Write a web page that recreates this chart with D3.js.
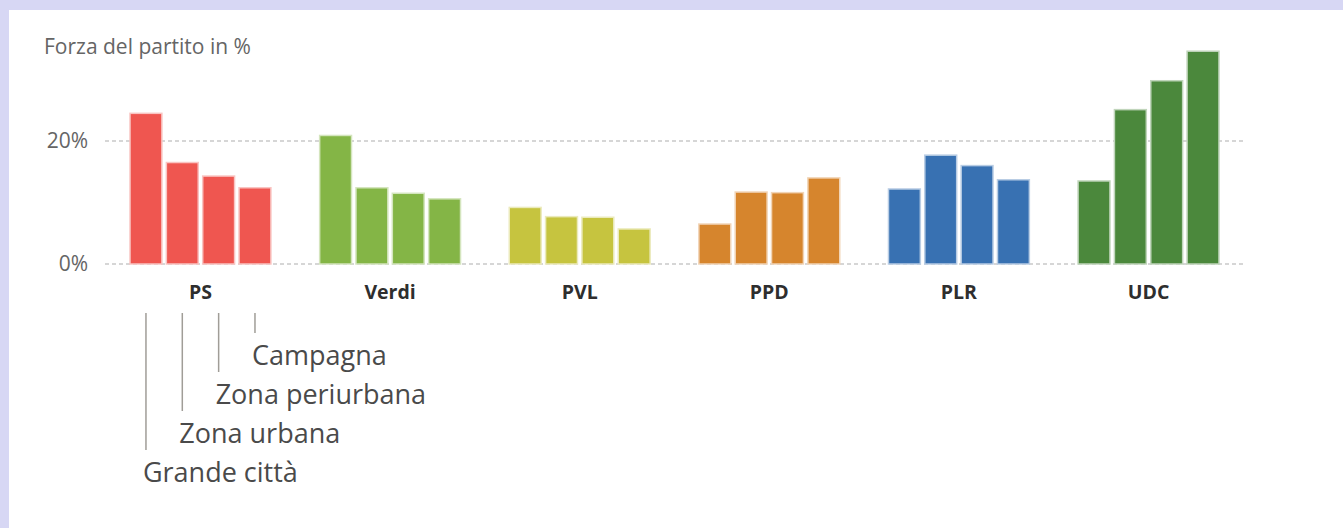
<!DOCTYPE html>
<html>
<head>
<meta charset="utf-8">
<script src="https://cdn.jsdelivr.net/npm/d3@7"></script>
<style>
  body { margin: 0; background: #d7d7f4; }
  #chart { position: absolute; left: 9px; top: 10px; width: 1334px; height: 518px; background: #fff; }
  text { font-family: "Open Sans", "Noto Sans", sans-serif; }
</style>
</head>
<body>
<div id="chart"></div>
<script>
// data
const parties = ["PS", "Verdi", "PVL", "PPD", "PLR", "UDC"]
const areas = ["Grande città", "Zona urbana", "Zona periurbana", "Campagna"]
const grandeCitta = [24.5, 20.9, 9.2, 6.5, 12.2, 13.5]
const zonaUrbana = [16.5, 12.4, 7.7, 11.7, 17.7, 25.1]
const zonaPeriurbana = [14.3, 11.5, 7.6, 11.6, 16.0, 29.8]
const campagna = [12.4, 10.6, 5.7, 14.0, 13.7, 34.6]
const partyColors = ["#ef5650", "#84b546", "#c6c43f", "#d6852d", "#3871b2", "#4b883c"]
const yTicks = [0, 20]

const series = [grandeCitta, zonaUrbana, zonaPeriurbana, campagna]

// svg coords are page coords shifted by the white panel offset
const offX = 9, offY = 10
const svg = d3.select("#chart")
    .append("svg")
    .attr("width", 1334)
    .attr("height", 518)
    .append("g")
    .attr("transform", `translate(${-offX},${-offY})`)

const x0 = d3.scaleBand()
    .domain(parties)
    .range([105, 1244])
    .paddingInner(0.257)
    .paddingOuter(0.132)

const x1 = d3.scaleBand()
    .domain(areas)
    .range([0, x0.bandwidth()])
    .paddingInner(0.123)

const y = d3.scaleLinear()
    .domain([0, 20])
    .range([264, 141])

// title
svg.append("text")
    .attr("x", 44)
    .attr("y", 54)
    .attr("font-size", 21)
    .attr("fill", "#656565")
    .text("Forza del partito in %")

// grid lines
const grid = svg.append("g")
grid.selectAll("line")
    .data(yTicks)
    .join("line")
    .attr("x1", 105)
    .attr("x2", 1244)
    .attr("y1", d => y(d))
    .attr("y2", d => y(d))
    .attr("stroke", "#c9c9c9")
    .attr("stroke-width", 1.3)
    .attr("stroke-dasharray", "4,3")

grid.selectAll("text")
    .data(yTicks)
    .join("text")
    .attr("x", 88)
    .attr("y", d => y(d))
    .attr("dy", "0.35em")
    .attr("text-anchor", "end")
    .attr("font-size", 21)
    .attr("fill", "#656565")
    .text(d => d + "%")

// bars
const groups = svg.append("g")
    .selectAll("g")
    .data(parties)
    .join("g")
    .attr("transform", d => `translate(${x0(d)},0)`)

groups.selectAll("rect")
    .data((p, i) => areas.map((a, j) => ({ area: a, value: series[j][i], color: partyColors[i] })))
    .join("rect")
    .attr("x", d => x1(d.area))
    .attr("y", d => y(d.value))
    .attr("width", x1.bandwidth())
    .attr("height", d => y(0) - y(d.value))
    .attr("fill", d => d.color)
    .attr("stroke", d => d3.interpolateRgb(d.color, "#fff")(0.65))
    .attr("stroke-width", 1.5)

// party labels
svg.append("g")
    .selectAll("text")
    .data(parties)
    .join("text")
    .attr("x", d => x0(d) + x0.bandwidth() / 2)
    .attr("y", 299)
    .attr("text-anchor", "middle")
    .attr("font-size", 19.5)
    .attr("font-weight", "bold")
    .attr("fill", "#2e2e2e")
    .text(d => d)

// area legend hanging under the first group
const legend = svg.append("g")
    .attr("transform", `translate(${x0(parties[0])},0)`)
const step = 39
legend.selectAll("line")
    .data(areas)
    .join("line")
    .attr("x1", d => x1(d) + x1.bandwidth() / 2)
    .attr("x2", d => x1(d) + x1.bandwidth() / 2)
    .attr("y1", 313)
    .attr("y2", (d, i) => 450 - i * step)
    .attr("stroke", "#a09d97")
    .attr("stroke-width", 1.5)

legend.selectAll("text")
    .data(areas)
    .join("text")
    .attr("x", d => x1(d) + x1.bandwidth() / 2 - 3)
    .attr("y", (d, i) => 482 - i * step)
    .attr("font-size", 27)
    .attr("fill", "#4a4a4a")
    .text(d => d)
</script>
</body>
</html>
